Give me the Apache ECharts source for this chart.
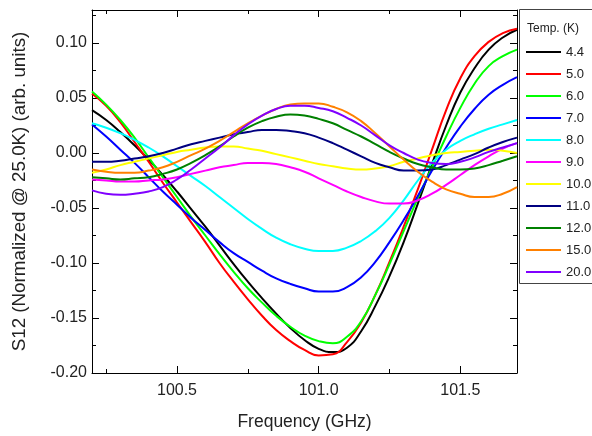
<!DOCTYPE html>
<html><head><meta charset="utf-8">
<script src="https://cdn.jsdelivr.net/npm/echarts@6/dist/echarts.min.js"></script>
<style>html,body{margin:0;padding:0;background:#fff}#c{width:592px;height:436px}</style>
</head><body><div id="c"></div>
<script>
const freq = [100.20,100.25,100.30,100.35,100.40,100.45,100.50,100.55,100.60,100.65,100.70,100.75,100.80,100.85,100.90,100.95,
              101.00,101.05,101.10,101.15,101.20,101.25,101.30,101.35,101.40,101.45,101.50,101.55,101.60,101.65,101.70];
const temps = ['4.4','5.0','6.0','7.0','8.0','9.0','10.0','11.0','12.0','15.0','20.0'];
const colors = ['#000000','#ff0000','#00ff00','#0000ff','#00ffff','#ff00ff','#ffff00','#000080','#008000','#ff8000','#8000ff'];
const t4_4  = [0.039,0.030,0.019,0.007,-0.006,-0.020,-0.035,-0.051,-0.067,-0.084,-0.101,-0.117,-0.132,-0.146,-0.159,-0.170,
               -0.178,-0.181,-0.177,-0.162,-0.139,-0.112,-0.081,-0.046,-0.010,0.025,0.055,0.077,0.094,0.105,0.112];
const t5_0  = [0.054,0.043,0.028,0.010,-0.008,-0.027,-0.045,-0.063,-0.081,-0.100,-0.117,-0.133,-0.148,-0.161,-0.171,-0.179,
               -0.184,-0.183,-0.172,-0.154,-0.129,-0.099,-0.067,-0.033,0.003,0.039,0.068,0.088,0.101,0.109,0.113];
const t6_0  = [0.056,0.044,0.030,0.014,-0.004,-0.022,-0.040,-0.058,-0.075,-0.092,-0.108,-0.123,-0.136,-0.148,-0.158,-0.166,
               -0.171,-0.173,-0.167,-0.153,-0.129,-0.101,-0.071,-0.041,-0.013,0.015,0.041,0.063,0.079,0.088,0.094];
const t7_0  = [0.026,0.015,0.003,-0.009,-0.022,-0.035,-0.047,-0.059,-0.070,-0.081,-0.091,-0.099,-0.107,-0.114,-0.119,-0.123,
               -0.126,-0.126,-0.122,-0.113,-0.099,-0.081,-0.061,-0.039,-0.016,0.005,0.024,0.040,0.053,0.062,0.069];
const t8_0  = [0.027,0.023,0.018,0.012,0.005,-0.003,-0.012,-0.021,-0.030,-0.040,-0.050,-0.060,-0.069,-0.077,-0.083,-0.087,
               -0.089,-0.089,-0.086,-0.080,-0.071,-0.059,-0.043,-0.025,-0.009,0.003,0.011,0.017,0.022,0.026,0.030];
const t9_0  = [-0.024,-0.025,-0.026,-0.026,-0.025,-0.024,-0.022,-0.019,-0.016,-0.013,-0.011,-0.009,-0.009,-0.010,-0.013,-0.017,
               -0.023,-0.029,-0.035,-0.040,-0.044,-0.046,-0.046,-0.043,-0.037,-0.029,-0.020,-0.011,-0.003,0.004,0.009];
const t10_0 = [-0.018,-0.015,-0.011,-0.008,-0.005,-0.002,0.001,0.003,0.005,0.006,0.006,0.004,0.002,-0.001,-0.004,-0.007,
               -0.010,-0.012,-0.014,-0.015,-0.014,-0.012,-0.008,-0.005,-0.002,0.000,0.001,0.002,0.003,0.002,0.000];
const t11_0 = [-0.008,-0.008,-0.007,-0.005,-0.003,0.000,0.004,0.008,0.011,0.014,0.017,0.019,0.021,0.021,0.020,0.018,
               0.014,0.009,0.003,-0.003,-0.009,-0.013,-0.016,-0.016,-0.015,-0.011,-0.006,-0.001,0.005,0.010,0.014];
const t12_0 = [-0.022,-0.023,-0.024,-0.023,-0.022,-0.019,-0.015,-0.009,-0.002,0.006,0.015,0.023,0.029,0.033,0.035,0.034,
               0.031,0.027,0.021,0.015,0.008,0.001,-0.005,-0.010,-0.013,-0.015,-0.015,-0.014,-0.011,-0.007,-0.003];
const t15_0 = [-0.015,-0.017,-0.018,-0.018,-0.016,-0.013,-0.008,-0.002,0.004,0.011,0.019,0.027,0.034,0.040,0.044,0.045,
               0.045,0.042,0.037,0.029,0.018,0.006,-0.006,-0.017,-0.026,-0.033,-0.037,-0.040,-0.040,-0.037,-0.031];
const t20_0 = [-0.034,-0.037,-0.038,-0.037,-0.035,-0.031,-0.024,-0.015,-0.005,0.005,0.016,0.026,0.034,0.040,0.043,0.043,
               0.041,0.038,0.032,0.025,0.016,0.007,0.000,-0.006,-0.009,-0.010,-0.008,-0.004,0.001,0.005,0.009];
const seriesValues = [t4_4,t5_0,t6_0,t7_0,t8_0,t9_0,t10_0,t11_0,t12_0,t15_0,t20_0];
const xMajor = [100.5,101.0,101.5];
const xMinor = [100.25,100.75,101.25];
const yMajor = [-0.20,-0.15,-0.10,-0.05,0.00,0.05,0.10];
const yMinor = [-0.175,-0.125,-0.075,-0.025,0.025,0.075,0.125];

const FONT = 'Liberation Sans, Arial, sans-serif';
const XMIN = 100.2, XMAX = 101.7, YMIN = -0.2, YMAX = 0.13;
const lineCol = '#000';

function xAx(pos, ticks, len, showLine, showLabel, extra) {
  return Object.assign({
    type: 'value', position: pos, min: XMIN, max: XMAX, splitLine: {show: false},
    axisLine: {show: showLine, onZero: false, lineStyle: {color: lineCol, width: 1}},
    axisTick: {show: true, inside: true, length: len, customValues: ticks, lineStyle: {color: lineCol}},
    axisLabel: {show: showLabel, customValues: ticks, margin: 10, fontSize: 16, color: '#222', fontFamily: FONT,
      formatter: v => Number(v).toFixed(1)}
  }, extra || {});
}
function yAx(pos, ticks, len, showLine, showLabel, extra) {
  return Object.assign({
    type: 'value', position: pos, min: YMIN, max: YMAX, splitLine: {show: false},
    axisLine: {show: showLine, onZero: false, lineStyle: {color: lineCol, width: 1}},
    axisTick: {show: true, inside: true, length: len, customValues: ticks, lineStyle: {color: lineCol}},
    axisLabel: {show: showLabel, customValues: ticks, margin: 5, fontSize: 16, color: '#222', fontFamily: FONT,
      formatter: v => Number(v).toFixed(2)}
  }, extra || {});
}

const chart = echarts.init(document.getElementById('c'), null, {renderer: 'canvas'});
chart.setOption({
  animation: false,
  backgroundColor: '#fff',
  grid: {left: 92, right: 75, top: 10, bottom: 61, containLabel: false},
  xAxis: [
    xAx('bottom', xMajor, 7, true, true, {name: 'Frequency (GHz)', nameLocation: 'middle', nameGap: 40,
      nameTextStyle: {fontSize: 17.5, color: '#222', fontFamily: FONT}}),
    xAx('bottom', xMinor, 4, false, false),
    xAx('top', xMajor, 7, true, false),
    xAx('top', xMinor, 4, false, false)
  ],
  yAxis: [
    yAx('left', yMajor, 7, true, true, {name: 'S12 (Normalized @ 25.0K) (arb. units)', nameLocation: 'middle', nameGap: 63,
      nameTextStyle: {fontSize: 18.8, color: '#222', fontFamily: FONT}}),
    yAx('left', yMinor, 4, false, false),
    yAx('right', yMajor, 7, true, false),
    yAx('right', yMinor, 4, false, false)
  ],
  legend: {
    orient: 'vertical', left: 526, top: 44, padding: 0, itemWidth: 35, itemHeight: 2, itemGap: 6,
    icon: 'rect', selectedMode: false,
    textStyle: {fontSize: 13, lineHeight: 16, color: '#222', fontFamily: FONT},
    data: temps
  },
  graphic: [
    {type: 'rect', left: 519, top: 9, z: 0, shape: {width: 100, height: 274},
      style: {fill: '#fff', stroke: '#444', lineWidth: 1}},
    {type: 'text', left: 527, top: 23, z: 5,
      style: {text: 'Temp. (K)', fontSize: 12, fill: '#222', fontFamily: FONT}}
  ],
  series: temps.map((t, i) => ({
    name: t, type: 'line', xAxisIndex: 0, yAxisIndex: 0, smooth: 0.5, symbol: 'none', showSymbol: false,
    itemStyle: {color: colors[i]}, lineStyle: {color: colors[i], width: 2},
    data: freq.map((f, k) => [f, seriesValues[i][k]])
  }))
});
</script></body></html>
